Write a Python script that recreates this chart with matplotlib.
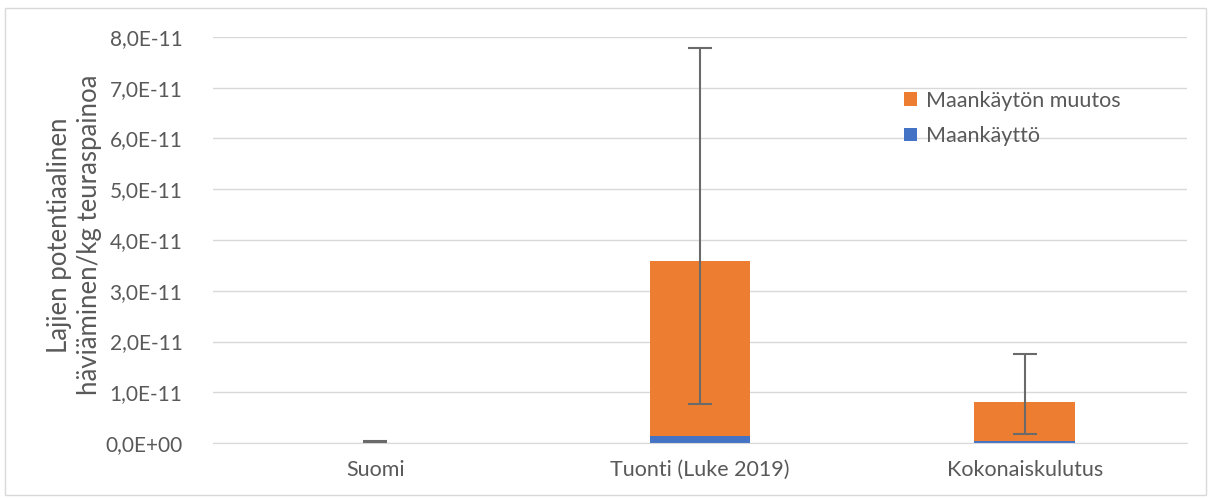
import matplotlib.pyplot as plt
import numpy as np
from matplotlib.patches import Rectangle
from matplotlib.ticker import FuncFormatter

plt.rcParams["font.family"] = ["Lato", "DejaVu Sans"]

categories = ["Suomi", "Tuonti (Luke 2019)", "Kokonaiskulutus"]
maankaytto = [0.001e-11, 0.14e-11, 0.03e-11]
muutos = [0.002e-11, 3.45e-11, 0.77e-11]
err_low = [0.025e-11, 0.77e-11, 0.17e-11]
err_high = [0.045e-11, 7.78e-11, 1.75e-11]

BLUE = "#4472c4"
ORANGE = "#ed7d31"
GRID = "#d9d9d9"
TEXT = "#595959"


def fmt(value, pos):
    if value == 0:
        return "0,0E+00"
    exp = int(np.floor(np.log10(abs(value))))
    mant = value / 10**exp
    return f"{mant:.1f}".replace(".", ",") + f"E{exp:+03d}"


fig = plt.figure(figsize=(12.11, 4.98), dpi=100)
fig.patches.append(
    Rectangle((0.004, 0.006), 0.992, 0.978, transform=fig.transFigure,
              fill=False, edgecolor=GRID, linewidth=1)
)
ax = fig.add_axes([213 / 1211, 1 - 443 / 498, 974 / 1211, 406 / 498])

x = np.arange(len(categories))
totals = np.array(maankaytto) + np.array(muutos)
ax.bar(x, maankaytto, width=0.31, color=BLUE, label="Maankäyttö", zorder=2)
ax.bar(x, muutos, width=0.31, bottom=maankaytto, color=ORANGE,
       label="Maankäytön muutos", zorder=2)
# error bars drawn between the low and high estimates
mid = (np.array(err_low) + np.array(err_high)) / 2
yerr = [mid - np.array(err_low), np.array(err_high) - mid]
ax.errorbar(x, mid, yerr=yerr, fmt="none", ecolor="#6a6a6a",
            elinewidth=1.5, capsize=8.5, capthick=1.5, zorder=3)

ax.set_xlim(-0.5, 2.5)
ax.set_ylim(0, 8e-11)
ax.set_yticks(np.arange(0, 8.01e-11, 1e-11))
ax.yaxis.set_major_formatter(FuncFormatter(fmt))
ax.grid(axis="y", color=GRID, linewidth=1, zorder=0)
ax.set_axisbelow(True)
for side in ["top", "right", "left"]:
    ax.spines[side].set_visible(False)
ax.spines["bottom"].set_color(GRID)
ax.tick_params(axis="both", length=0, labelsize=15.5, colors=TEXT)
ax.tick_params(axis="y", labelsize=15, pad=22)
ax.tick_params(axis="x", pad=12)
ax.set_xticks(x, categories)
ax.set_ylabel("Lajien potentiaalinen\nhäviäminen/kg teuraspainoa",
              fontsize=18.5, color=TEXT, linespacing=1.25)
ax.yaxis.set_label_coords(-0.114, 0.512)

handles, labels = ax.get_legend_handles_labels()
ax.legend(handles[::-1], labels[::-1], loc="upper left",
          bbox_to_anchor=(0.69, 0.915), frameon=False, fontsize=15.5,
          labelcolor=TEXT, handlelength=0.6, handleheight=0.6,
          handletextpad=0.4, labelspacing=0.7)

fig.savefig("out.png", dpi=100, facecolor="white")
